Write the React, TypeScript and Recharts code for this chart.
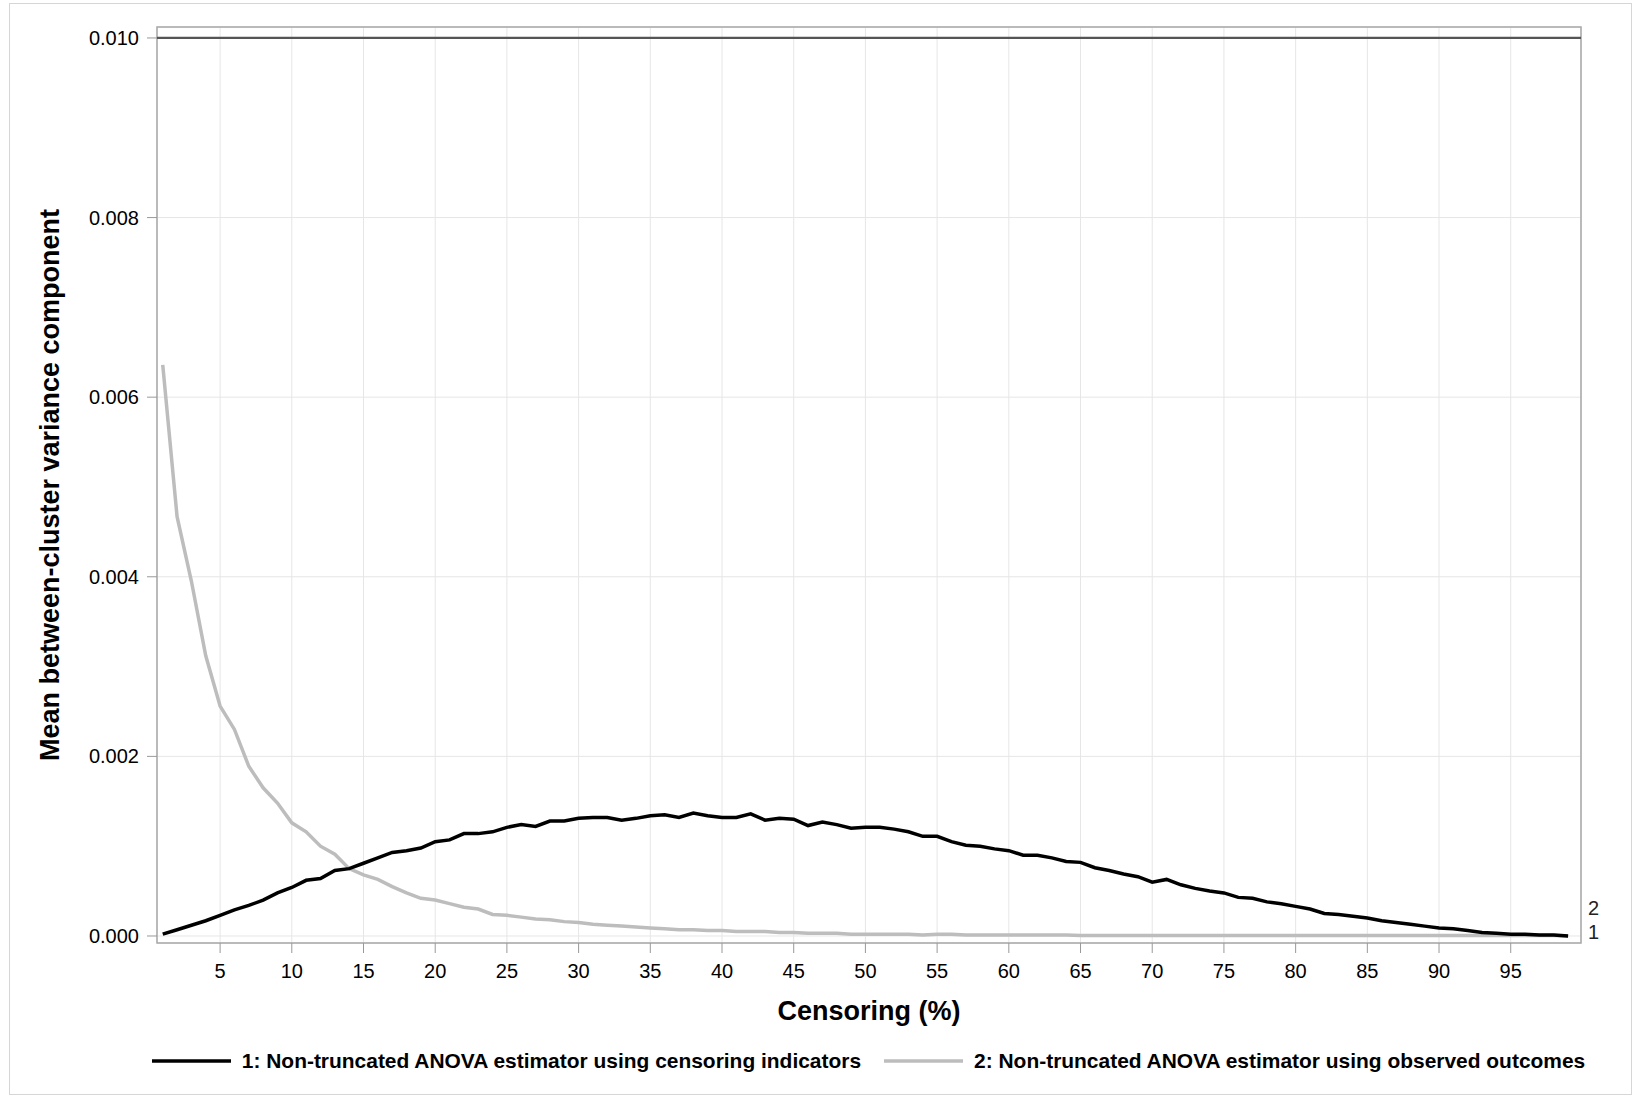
import React from 'react';
import { LineChart, Line, XAxis, YAxis, CartesianGrid, ReferenceLine, ReferenceArea, Legend } from 'recharts';

// censoring percentage, 1..99
const censoring = Array.from({ length: 99 }, (_, i) => i + 1);

// 1: Non-truncated ANOVA estimator using censoring indicators
const indicatorSeries = [
  0.00002, 0.00007, 0.00012, 0.00017, 0.00023, 0.00029, 0.00034, 0.0004, 0.00048, 0.00054,
  0.00062, 0.00064, 0.00073, 0.00075, 0.00081, 0.00087, 0.00093, 0.00095, 0.00098, 0.00105,
  0.00107, 0.00114, 0.00114, 0.00116, 0.00121, 0.00124, 0.00122, 0.00128, 0.00128, 0.00131,
  0.00132, 0.00132, 0.00129, 0.00131, 0.00134, 0.00135, 0.00132, 0.00137, 0.00134, 0.00132,
  0.00132, 0.00136, 0.00129, 0.00131, 0.0013, 0.00123, 0.00127, 0.00124, 0.0012, 0.00121,
  0.00121, 0.00119, 0.00116, 0.00111, 0.00111, 0.00105, 0.00101, 0.001, 0.00097, 0.00095,
  0.0009, 0.0009, 0.00087, 0.00083, 0.00082, 0.00076, 0.00073, 0.00069, 0.00066, 0.0006,
  0.00063, 0.00057, 0.00053, 0.0005, 0.00048, 0.00043, 0.00042, 0.00038, 0.00036, 0.00033,
  0.0003, 0.00025, 0.00024, 0.00022, 0.0002, 0.00017, 0.00015, 0.00013, 0.00011, 0.00009,
  0.00008, 0.00006, 0.00004, 0.00003, 0.00002, 0.00002, 0.00001, 0.00001, 0.0,
];

// 2: Non-truncated ANOVA estimator using observed outcomes
const outcomeSeries = [
  0.00636, 0.00467, 0.00395, 0.00312, 0.00256, 0.0023, 0.00189, 0.00165, 0.00148, 0.00126,
  0.00116, 0.001, 0.00091, 0.00075, 0.00068, 0.00063, 0.00055, 0.00048, 0.00042, 0.0004,
  0.00036, 0.00032, 0.0003, 0.00024, 0.00023, 0.00021, 0.00019, 0.00018, 0.00016, 0.00015,
  0.00013, 0.00012, 0.00011, 0.0001, 0.00009, 0.00008, 0.00007, 0.00007, 0.00006, 0.00006,
  0.00005, 0.00005, 0.00005, 0.00004, 0.00004, 0.00003, 0.00003, 0.00003, 0.00002, 0.00002,
  0.00002, 0.00002, 0.00002, 0.00001, 0.00002, 0.00002, 0.00001, 0.00001, 0.00001, 0.00001,
  0.00001, 0.00001, 0.00001, 0.00001, 0.000005, 0.000005, 0.000005, 0.000005, 0.000005, 0.000005,
  0.000005, 0.000005, 0.000005, 0.000005, 0.000005, 0.000005, 0.000005, 0.000005, 0.000005, 0.000005,
  0.000005, 0.000005, 0.000005, 0.000005, 0.000005, 0.000005, 0.000005, 0.000005, 0.000005, 0.000005,
  0.000005, 0.000005, 0.000005, 0.000005, 0.000005, 0.000005, 0.000005, 0.000005, 0.0,
];

const xTicks = [5, 10, 15, 20, 25, 30, 35, 40, 45, 50, 55, 60, 65, 70, 75, 80, 85, 90, 95];
const yTicks = [0, 0.002, 0.004, 0.006, 0.008, 0.01];
const trueValue = 0.01;

const seriesNames = [
  '1: Non-truncated ANOVA estimator using censoring indicators',
  '2: Non-truncated ANOVA estimator using observed outcomes',
];

const X_MIN = 0.6;
const X_MAX = 99.9;
const Y_MIN = -0.000078;
const Y_MAX = 0.010122;

const FONT = '"Liberation Sans", Arial, sans-serif';
const BLACK = '#000000';
const GREY = '#bdbdbd';

const data = censoring.map((c, i) => ({
  censoring: c,
  indicators: indicatorSeries[i],
  outcomes: outcomeSeries[i],
}));

// curve label ("1" / "2") drawn just right of the last point
const endLabel = (text: string, dy: number) => (props: any) => {
  if (props.index !== data.length - 1) return null;
  return (
    <text x={props.x + 20} y={props.y + dy} fontSize={20} fill="#222" dominantBaseline="central" fontFamily={FONT}>
      {text}
    </text>
  );
};

const LegendContent = () => (
  <div style={{ display: 'flex', justifyContent: 'center', alignItems: 'center', fontFamily: FONT }}>
    {seriesNames.map((name, i) => (
      <div key={name} style={{ display: 'flex', alignItems: 'center', marginLeft: i === 0 ? 0 : 23 }}>
        <svg width={79} height={6} style={{ marginRight: 11 }}>
          <line x1={0} y1={3} x2={79} y2={3} stroke={i === 0 ? BLACK : GREY} strokeWidth={3.5} />
        </svg>
        <span style={{ fontSize: 20.95, fontWeight: 'bold', color: '#000', whiteSpace: 'nowrap' }}>{name}</span>
      </div>
    ))}
  </div>
);

export default function App() {
  return (
    <div style={{ position: 'absolute', left: 0, top: 0, width: 1633, height: 1096, background: '#fff' }}>
      <div style={{ position: 'absolute', left: 9, top: 3, width: 1621, height: 1090, border: '1px solid #d6d6d6' }} />
      <LineChart
        width={1633}
        height={1096}
        data={data}
        margin={{ top: 27, right: 52, left: 0, bottom: 0 }}
        style={{ fontFamily: FONT }}
      >
        <CartesianGrid stroke="#e6e6e6" strokeWidth={1} />
        <XAxis
          dataKey="censoring"
          type="number"
          domain={[X_MIN, X_MAX]}
          allowDataOverflow
          ticks={xTicks}
          height={153}
          axisLine={false}
          tickLine={{ stroke: '#999' }}
          tickSize={10}
          tickMargin={11}
          tick={{ fontSize: 20, fill: '#000' }}
          label={{ value: 'Censoring (%)', position: 'insideBottom', offset: 76, style: { fontSize: 27, fontWeight: 'bold', fill: '#000' } }}
        />
        <YAxis
          type="number"
          domain={[Y_MIN, Y_MAX]}
          allowDataOverflow
          ticks={yTicks}
          width={157}
          axisLine={false}
          tickLine={{ stroke: '#999' }}
          tickSize={10}
          tickMargin={8}
          tickFormatter={(v: number) => v.toFixed(3)}
          tick={{ fontSize: 20, fill: '#000' }}
          label={{
            value: 'Mean between-cluster variance component',
            angle: -90,
            position: 'insideLeft',
            offset: 49,
            style: { textAnchor: 'middle', fontSize: 27, fontWeight: 'bold', fill: '#000' },
          }}
        />
        <ReferenceArea x1={X_MIN} x2={X_MAX} y1={Y_MIN} y2={Y_MAX} fill="none" stroke="#a8a8a8" strokeWidth={1.5} ifOverflow="visible" />
        <ReferenceLine y={trueValue} stroke="#555" strokeWidth={2.2} />
        <Line
          dataKey="outcomes"
          name={seriesNames[1]}
          stroke={GREY}
          strokeWidth={3.5}
          dot={false}
          type="linear"
          isAnimationActive={false}
          label={endLabel('2', -28)}
        />
        <Line
          dataKey="indicators"
          name={seriesNames[0]}
          stroke={BLACK}
          strokeWidth={3.5}
          dot={false}
          type="linear"
          isAnimationActive={false}
          label={endLabel('1', -4)}
        />
        <Legend
          layout="horizontal"
          verticalAlign="middle"
          align="center"
          content={<LegendContent />}
          wrapperStyle={{ left: 0, top: 1049, width: 1633 + 104, height: 28 }}
        />
      </LineChart>
    </div>
  );
}
